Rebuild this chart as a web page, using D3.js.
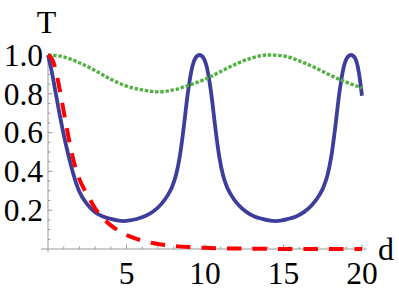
<!DOCTYPE html>
<html>
<head>
<meta charset="utf-8">
<script src="https://cdn.jsdelivr.net/npm/d3@7"></script>
<style>
  html, body { margin: 0; padding: 0; background: #fff; }
  svg { display: block; }
</style>
</head>
<body>
<svg id="chart" width="399" height="294"></svg>
<script>
// values
const blueD = [0, 0.25, 0.5, 0.75, 1.0, 1.25, 1.5, 1.75, 2.0, 2.5, 3.0, 3.5, 4.0, 4.5, 4.83,
  5.2, 5.7, 6.2, 6.7, 7.2, 7.65, 7.9, 8.15, 8.4, 8.65, 8.9, 9.15, 9.4, 9.65,
  9.9, 10.15, 10.4, 10.65, 10.9, 11.15, 11.4, 11.65, 12.15, 12.65, 13.15, 13.65, 14.15, 14.48,
  14.8, 15.3, 15.8, 16.3, 16.8, 17.3, 17.55, 17.8, 18.05, 18.3, 18.55, 18.8, 19.05, 19.3,
  19.55, 19.8, 20.0];
const blueT = [1.0, 0.91, 0.8, 0.69, 0.59, 0.5, 0.42, 0.35, 0.295, 0.23, 0.19, 0.168, 0.155, 0.146, 0.144,
  0.147, 0.156, 0.17, 0.193, 0.23, 0.28, 0.32, 0.38, 0.48, 0.63, 0.8, 0.925, 0.985, 1.0,
  0.985, 0.925, 0.8, 0.63, 0.48, 0.38, 0.32, 0.28, 0.225, 0.19, 0.168, 0.155, 0.146, 0.144,
  0.146, 0.155, 0.168, 0.19, 0.225, 0.28, 0.32, 0.38, 0.48, 0.63, 0.8, 0.925, 0.985, 1.0,
  0.985, 0.91, 0.79];

const redD = [0, 0.25, 0.5, 0.75, 1.0, 1.25, 1.5, 1.75, 2.0, 2.5, 3.0, 3.5, 4.0, 4.5, 5.0,
  5.5, 6.0, 7.0, 8.0, 9.0, 10, 11, 12, 14, 16, 18, 20];
const redT = [1.0, 0.98, 0.92, 0.82, 0.71, 0.6, 0.5, 0.42, 0.36, 0.28, 0.21, 0.16, 0.122, 0.094, 0.072,
  0.056, 0.043, 0.026, 0.016, 0.01, 0.006, 0.0037, 0.0023, 0.0009, 0.0003, 0.0001, 0.00005];

const greenD = [0, 1, 2, 3, 4, 5, 6, 7, 8, 9, 10, 11, 12, 13, 14, 15, 16, 17, 18, 19, 20];
const greenT = [1.0, 0.99, 0.96, 0.92, 0.875, 0.84, 0.82, 0.81, 0.82, 0.845, 0.875, 0.915,
  0.955, 0.985, 1.0, 0.995, 0.97, 0.935, 0.895, 0.86, 0.83];

const xTicks = [5, 10, 15, 20];
const yTicks = [0.2, 0.4, 0.6, 0.8, 1.0];

const serif = "Liberation Serif";

const svg = d3.select("#chart");

const x = d3.scaleLinear().domain([0, 20]).range([48, 362]);
const y = d3.scaleLinear().domain([0, 1]).range([249, 55]);

const axisColor = "#999";

// axes lines
svg.append("line")
  .attr("x1", 41).attr("x2", x(20.3))
  .attr("y1", y(0)).attr("y2", y(0))
  .attr("stroke", axisColor).attr("stroke-width", 1);
svg.append("line")
  .attr("x1", x(0)).attr("x2", x(0))
  .attr("y1", y(0) + 3).attr("y2", y(1.0))
  .attr("stroke", axisColor).attr("stroke-width", 1);

// x ticks: minor each 1, major each 5
svg.append("g").selectAll("line")
  .data(d3.range(1, 21))
  .enter()
  .append("line")
  .attr("x1", (d) => x(d)).attr("x2", (d) => x(d))
  .attr("y1", y(0))
  .attr("y2", (d) => y(0) - (d % 5 === 0 ? 4.5 : 2.5))
  .attr("stroke", axisColor).attr("stroke-width", 1);

// y ticks: minor each 0.05, major each 0.2
svg.append("g").selectAll("line")
  .data(d3.range(1, 21).map((i) => i * 0.05))
  .enter()
  .append("line")
  .attr("x1", x(0))
  .attr("x2", (d, i) => x(0) + ((i + 1) % 4 === 0 ? 4.5 : 2.5))
  .attr("y1", (d) => y(d)).attr("y2", (d) => y(d))
  .attr("stroke", axisColor).attr("stroke-width", 1);

svg.append("g").selectAll("text")
  .data(xTicks)
  .enter()
  .append("text")
  .attr("x", (d) => x(d))
  .attr("y", 284)
  .attr("text-anchor", "middle")
  .attr("font-family", serif)
  .attr("font-size", 31.5)
  .text((d) => d);

svg.append("g").selectAll("text")
  .data(yTicks)
  .enter()
  .append("text")
  .attr("x", 43)
  .attr("y", (d) => y(d))
  .attr("dy", "0.34em")
  .attr("text-anchor", "end")
  .attr("font-family", serif)
  .attr("font-size", 31.5)
  .text((d) => d.toFixed(1));

svg.append("text")
  .attr("x", 46.5).attr("y", 33)
  .attr("text-anchor", "middle")
  .attr("font-family", serif)
  .attr("font-size", 32)
  .text("T");
svg.append("text")
  .attr("x", 378).attr("y", 260)
  .attr("font-family", serif)
  .attr("font-size", 32)
  .text("d");

// curves
const line = d3.line()
  .x((d) => x(d[0]))
  .y((d) => y(d[1]))
  .curve(d3.curveMonotoneX);

svg.append("path")
  .datum(d3.zip(blueD, blueT))
  .attr("d", line)
  .attr("fill", "none")
  .attr("stroke", "#3d3d9c")
  .attr("stroke-width", 3.8);

svg.append("path")
  .datum(d3.zip(greenD, greenT))
  .attr("d", line)
  .attr("fill", "none")
  .attr("stroke", "#52b142")
  .attr("stroke-width", 3.4)
  .attr("stroke-dasharray", "3.4,1.8");

svg.append("path")
  .datum(d3.zip(redD, redT))
  .attr("d", line)
  .attr("fill", "none")
  .attr("stroke", "#ff0000")
  .attr("stroke-width", 4)
  .attr("stroke-dasharray", "14.5,11");
</script>
</body>
</html>
